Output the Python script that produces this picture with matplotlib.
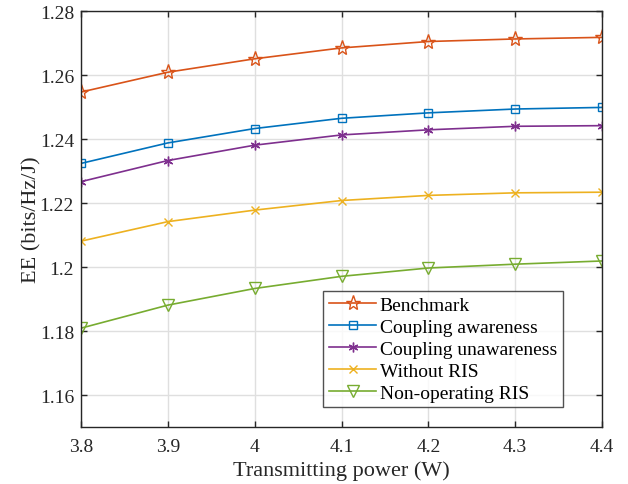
import matplotlib
matplotlib.use("Agg")
import matplotlib.pyplot as plt
from matplotlib.ticker import FuncFormatter

x = [3.8, 3.9, 4.0, 4.1, 4.2, 4.3, 4.4]
benchmark = [1.2547, 1.2609, 1.2651, 1.2685, 1.2705, 1.2713, 1.2718]
coupling_aware = [1.2324, 1.2388, 1.2433, 1.2465, 1.2482, 1.2494, 1.2499]
coupling_unaware = [1.2267, 1.2333, 1.2381, 1.2413, 1.2429, 1.2440, 1.2442]
without_ris = [1.2081, 1.2142, 1.2178, 1.2208, 1.2224, 1.2232, 1.2234]
non_operating = [1.1809, 1.1881, 1.1933, 1.1971, 1.1997, 1.2009, 1.2019]
labels = ["Benchmark", "Coupling awareness", "Coupling unawareness",
          "Without RIS", "Non-operating RIS"]
xticks = [3.8, 3.9, 4.0, 4.1, 4.2, 4.3, 4.4]
yticks = [1.16, 1.18, 1.20, 1.22, 1.24, 1.26, 1.28]

plt.rcParams['font.family'] = ['Liberation Serif', 'DejaVu Serif']
plt.rcParams['mathtext.fontset'] = 'stix'

fig = plt.figure(figsize=(6.28, 4.85), dpi=100)
ax = fig.add_axes([0.129, 0.1175, 0.8296, 0.8575])

series = [benchmark, coupling_aware, coupling_unaware, without_ris, non_operating]
colors = ['#D95319', '#0072BD', '#7E2F8E', '#EDB120', '#77AC30']
markers = ['*', 's', (6, 2, 0), 'x', 'v']
sizes = [11, 5.5, 7, 6, 8]
for s, c, m, ms, lab in zip(series, colors, markers, sizes, labels):
    ax.plot(x, s, color=c, marker=m, markersize=ms, markerfacecolor='none',
            markeredgecolor=c, markeredgewidth=1.0, linewidth=1.2, label=lab)

ax.set_xlim(3.8, 4.4)
ax.set_ylim(1.15, 1.28)
ax.set_xticks(xticks)
ax.set_yticks(yticks)
fmt = FuncFormatter(lambda v, p: ('%g' % round(v, 4)))
ax.xaxis.set_major_formatter(fmt)
ax.yaxis.set_major_formatter(fmt)
ax.grid(True, color='#dfdfdf', linewidth=1.0)
ax.set_axisbelow(True)
ax.tick_params(direction='in', top=True, right=True, labelsize=14,
               length=4, width=1.0, colors='#262626')
ax.tick_params(axis='x', pad=8)
ax.tick_params(axis='y', pad=5)
for sp in ax.spines.values():
    sp.set_color('#262626')
    sp.set_linewidth(1.0)
ax.set_xlabel('Transmitting power (W)', fontsize=16, color='#262626', labelpad=4)
ax.set_ylabel('EE (bits/Hz/J)', fontsize=16, color='#262626', labelpad=-1)

leg = ax.legend(loc='lower right', bbox_to_anchor=(0.925, 0.047), fontsize=14,
                frameon=True, fancybox=False, edgecolor='#262626',
                handlelength=2.4, borderpad=0.3, labelspacing=0.22,
                handletextpad=0.2, borderaxespad=0.0)
leg.get_frame().set_linewidth(1.0)

fig.savefig('out.png', dpi=100)
